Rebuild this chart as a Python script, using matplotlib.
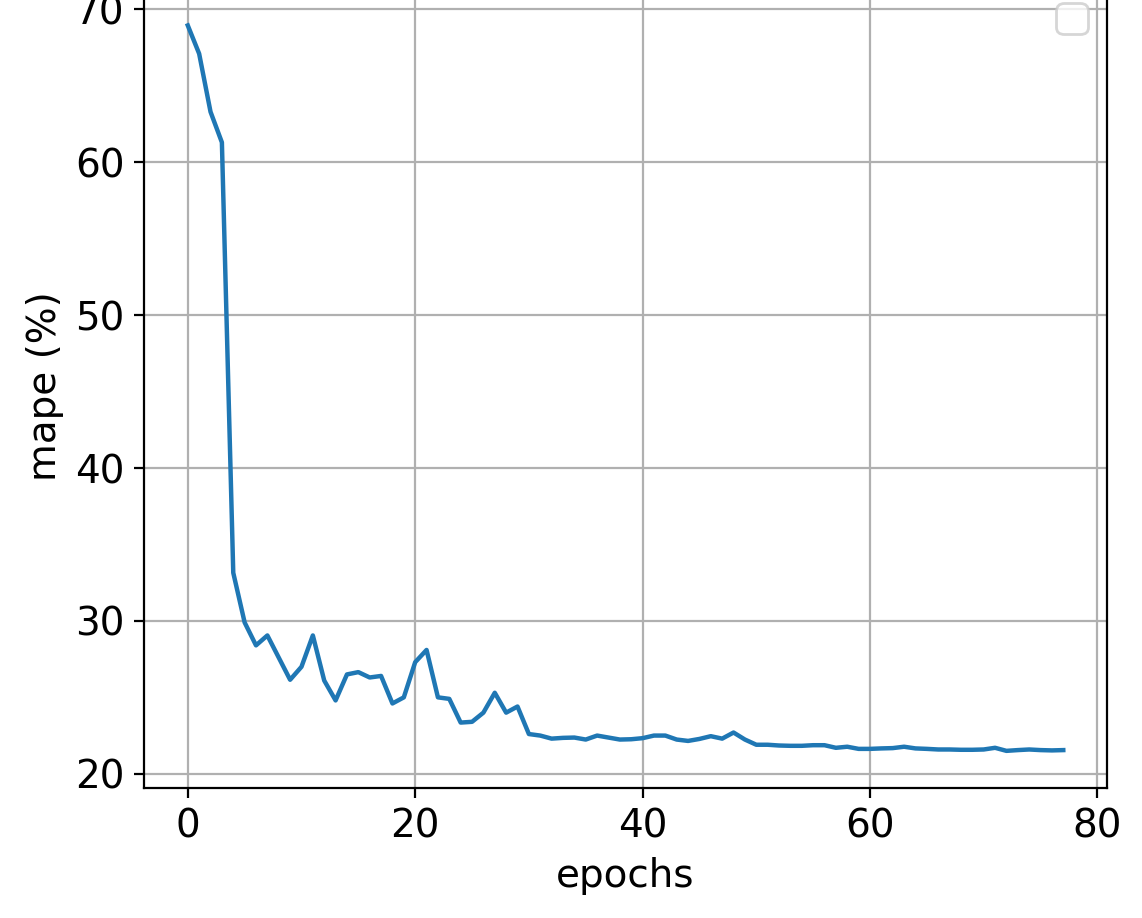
import numpy as np
import matplotlib
matplotlib.use("Agg")
import matplotlib.pyplot as plt

######################################################################
# training curve: mape per epoch
######################################################################

epochs = np.arange(78)
mape = [68.95, 67.1, 63.3, 61.3, 33.15, 29.9, 28.4, 29.05, 27.6, 26.15,
        27.0, 29.05, 26.1, 24.8, 26.5, 26.65, 26.3, 26.4, 24.6, 25.0,
        27.3, 28.1, 25.0, 24.9, 23.35, 23.4, 24.0, 25.3, 24.0, 24.4,
        22.6, 22.5, 22.3, 22.35, 22.37, 22.24, 22.5, 22.37, 22.24, 22.26,
        22.33, 22.5, 22.5, 22.24, 22.15, 22.28, 22.46, 22.3, 22.7, 22.24,
        21.9, 21.9, 21.85, 21.83, 21.83, 21.87, 21.87, 21.7, 21.77, 21.63,
        21.63, 21.66, 21.68, 21.77, 21.66, 21.63, 21.59, 21.59, 21.57, 21.57,
        21.59, 21.7, 21.5, 21.55, 21.59, 21.55, 21.53, 21.55]

plt.rcParams['font.size'] = 14

fig = plt.figure(figsize = (5.71, 4.59), dpi = 200)
ax = fig.add_axes([0.1261, 0.1416, 0.8433, 0.876])

ax.plot(epochs, mape, color = "#1f77b4", linewidth = 1.6)
ax.set_xlim(-3.85, 80.85)
ax.set_ylim(19.07, 71.67)
ax.set_xticks([0, 20, 40, 60, 80])
ax.set_yticks([20, 30, 40, 50, 60, 70])
ax.set_xlabel("epochs")
ax.set_ylabel("mape (%)")
ax.grid(True)
ax.legend(loc = "upper right")

fig.savefig("out.png", dpi = 200)
